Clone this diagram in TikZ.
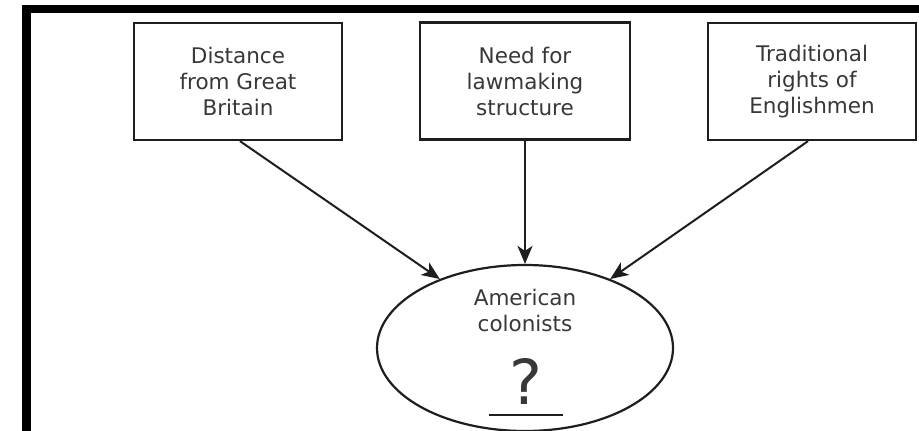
\documentclass[tikz,border=0pt]{standalone}
\usepackage{fontspec}
\setmainfont{DejaVu Sans}
\usetikzlibrary{shapes.geometric,arrows.meta}
\definecolor{linec}{HTML}{1E1E1E}
\definecolor{textc}{HTML}{383838}
\begin{document}
\begin{tikzpicture}[x=1pt,y=-1pt,
  box/.style={draw=linec,line width=2.3pt,rectangle,minimum width=208pt,minimum height=117pt,
    align=center,text=textc,font=\fontsize{21.5}{26}\selectfont,inner sep=0pt},
  arr/.style={draw=linec,line width=2pt,-{Stealth[length=18pt,width=15pt,inset=5pt]}},
  oval/.style={draw=linec,line width=2.2pt,ellipse,minimum width=296pt,minimum height=166pt,inner sep=0pt}]
\useasboundingbox (0,0) rectangle (919,431);
\fill[white] (0,0) rectangle (919,431);
% frame
\fill[black] (22,5) rectangle (919,13);
\fill[black] (22,5) rectangle (31,431);
% boxes
\node[box] (b1) at (238,81.5) {Distance\\from Great\\Britain};
\node[box,minimum width=210pt] (b2) at (525,81) {Need for\\lawmaking\\structure};
\node[box] (b3) at (812,81.5) {Traditional\\rights of\\Englishmen};
% ellipse
\node[oval] (e) at (525,348) {};
\node[text=textc,align=center,font=\fontsize{21.5}{26}\selectfont] (lbl) at (525,310) {American\\colonists};
\node[text=textc,font=\fontsize{62}{62}\selectfont,inner sep=0pt] (q) at (526,381) {?};
\coordinate (u1) at (489,415);
\coordinate (u2) at (563,415);
\draw[linec,line width=2.3pt] (u1) -- (u2);
% arrows
\draw[arr] ([xshift=2pt]b1.south) -- (e.141);
\draw[arr] (b2.south) -- (e.north);
\draw[arr] ([xshift=-4pt]b3.south) -- (e.39);
\end{tikzpicture}
\end{document}
